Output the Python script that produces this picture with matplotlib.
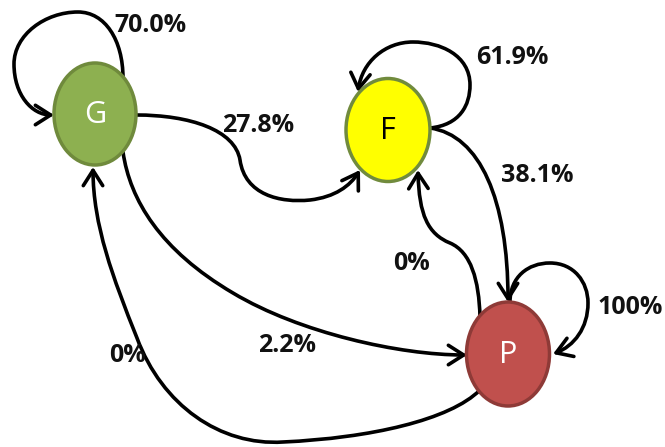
import matplotlib
matplotlib.use("Agg")
import matplotlib.pyplot as plt
from matplotlib.patches import Ellipse, FancyArrowPatch
from matplotlib.path import Path

# ---- data ----
states = ["G", "F", "P"]
sources = ["G", "G", "G", "F", "F", "P", "P", "P"]
targets = ["G", "F", "P", "F", "P", "P", "F", "G"]
edge_labels = ["70.0%", "27.8%", "2.2%", "61.9%", "38.1%", "100%", "0%", "0%"]

# ---- layout / style ----
W, H = 665, 447
fig = plt.figure(figsize=(W / 100, H / 100), dpi=100)
ax = fig.add_axes([0, 0, 1, 1])
ax.set_xlim(0, W)
ax.set_ylim(H, 0)
ax.axis("off")

node_pos = {"G": (95, 114), "F": (388, 130), "P": (508, 354)}
node_size = {"G": (82, 102), "F": (84, 103), "P": (83, 104)}
node_fill = {"G": "#8db050", "F": "#ffff00", "P": "#c0504d"}
node_edge = {"G": "#6f8a3c", "F": "#718b3d", "P": "#8e3a37"}
node_text = {"G": "white", "F": "black", "P": "white"}

M, C = Path.MOVETO, Path.CURVE4
edge_paths = {
    ("G", "G"): [(123, 78), (123, 40), (105, 12), (78, 12),
                 (45, 12), (14, 35), (14, 64),
                 (14, 95), (32, 115), (54, 115)],
    ("G", "F"): [(136, 115), (190, 115), (235, 130), (240, 160),
                 (245, 195), (280, 203), (310, 200),
                 (335, 197), (350, 186), (360, 170)],
    ("G", "P"): [(123, 152), (130, 200), (160, 250), (233, 293),
                 (300, 333), (400, 355), (467, 355)],
    ("F", "F"): [(430, 128), (460, 125), (470, 105), (470, 85),
                 (470, 55), (440, 42), (413, 42),
                 (385, 42), (362, 62), (358, 92)],
    ("F", "P"): [(430, 128), (480, 135), (508, 200), (508, 302)],
    ("P", "P"): [(510, 302), (510, 277), (528, 263), (550, 263),
                 (574, 263), (588, 282), (588, 303),
                 (588, 328), (574, 346), (553, 354)],
    ("P", "F"): [(480, 317), (479, 280), (471, 252), (450, 243),
                 (428, 234), (419, 215), (418, 170)],
    ("P", "G"): [(480, 390), (450, 420), (370, 438), (283, 442),
                 (220, 446), (162, 405), (137, 338),
                 (113, 278), (93, 225), (93, 167)],
}
label_pos = {
    ("G", "G"): (150, 25), ("G", "F"): (258, 125), ("G", "P"): (287, 346),
    ("F", "F"): (512, 58), ("F", "P"): (537, 176), ("P", "P"): (630, 308),
    ("P", "F"): (412, 264), ("P", "G"): (127, 355),
}

font = ["Open Sans", "DejaVu Sans"]

for s, t, lab in zip(sources, targets, edge_labels):
    pts = edge_paths[(s, t)]
    codes = [M] + [C] * (len(pts) - 1)
    arr = FancyArrowPatch(path=Path(pts, codes),
                          arrowstyle="->,head_length=0.55,head_width=0.35",
                          mutation_scale=20, lw=2.6, color="black",
                          capstyle="round", joinstyle="round", zorder=1)
    ax.add_patch(arr)
    x, y = label_pos[(s, t)]
    ax.text(x, y, lab, ha="center", va="center", fontsize=18,
            fontweight="bold", family=font, color="#111111", zorder=5)

for n in states:
    (x, y), (w, h) = node_pos[n], node_size[n]
    ax.add_patch(Ellipse((x, y), w, h, facecolor=node_fill[n],
                         edgecolor=node_edge[n], lw=2.5, zorder=3))
    ax.text(x, y + 1, n, ha="center", va="center", fontsize=22,
            family=font, color=node_text[n], zorder=4)

fig.savefig("out.png", dpi=100)
